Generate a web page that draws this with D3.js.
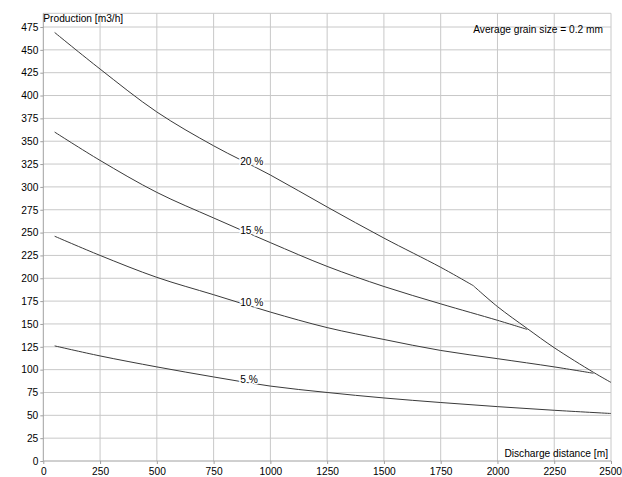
<!DOCTYPE html>
<html>
<head>
<meta charset="utf-8">
<script src="https://cdn.jsdelivr.net/npm/d3@7"></script>
<style>
  html, body { margin: 0; padding: 0; background: #fff; }
  svg { display: block; }
  text { font-family: "Liberation Sans", Arial, sans-serif; font-size: 10.2px; fill: #000; }
</style>
</head>
<body>
<svg id="chart" width="622" height="477"></svg>
<script>
// ---- data ----
const xTicks = [0, 250, 500, 750, 1000, 1250, 1500, 1750, 2000, 2250, 2500];
const yTicks = [0, 25, 50, 75, 100, 125, 150, 175, 200, 225, 250, 275, 300, 325, 350, 375, 400, 425, 450, 475];

const s20x = [50, 250, 500, 750, 1000, 1250, 1500, 1750, 1893, 2000, 2131, 2250, 2423, 2500];
const s20y = [469, 429, 382, 345, 313, 278, 244, 212, 192, 169, 145, 124, 97, 86];
const s20kink = 1893;

const s15x = [50, 250, 500, 750, 1000, 1250, 1500, 1750, 2000, 2131];
const s15y = [360, 329, 294, 266, 239, 213, 191, 172, 154, 144];

const s10x = [50, 250, 500, 750, 1000, 1250, 1500, 1750, 2000, 2250, 2423];
const s10y = [246, 225, 201, 182, 163, 146, 133, 121, 112, 103, 96];

const s5x = [50, 250, 500, 750, 1000, 1250, 1500, 1750, 2000, 2250, 2500];
const s5y = [126, 115, 103, 92, 82, 75, 69, 64, 59.5, 55.5, 52];

const seriesNames = ["20 %", "15 %", "10 %", "5 %"];
const labelX = 867;

const xTitle = "Discharge distance [m]";
const yTitle = "Production [m3/h]";
const note = "Average grain size = 0.2 mm";

// ---- layout ----
const svg = d3.select("#chart");
const pLeft = 43.3, pRight = 611, pTop = 13.3, pBottom = 461;

const x = d3.scaleLinear().domain([0, 2500]).range([pLeft, pRight]);
const y = d3.scaleLinear().domain([0, 490]).range([pBottom, pTop]);

// grid
const grid = svg.append("g");
grid.selectAll("line.v").data(xTicks.slice(1)).enter().append("line")
  .attr("x1", d => x(d)).attr("x2", d => x(d))
  .attr("y1", pTop).attr("y2", pBottom)
  .attr("stroke", "#c8c8c8").attr("stroke-width", 1);
grid.selectAll("line.h").data(yTicks.slice(1)).enter().append("line")
  .attr("x1", pLeft).attr("x2", pRight)
  .attr("y1", d => y(d)).attr("y2", d => y(d))
  .attr("stroke", "#c8c8c8").attr("stroke-width", 1);
grid.append("line").attr("x1", pLeft).attr("x2", pRight).attr("y1", pTop).attr("y2", pTop)
  .attr("stroke", "#c8c8c8");

// axes
const fmt = d3.format("d");
const xAxis = d3.axisBottom(x).tickValues(xTicks).tickFormat(fmt).tickSize(3).tickSizeOuter(0).tickPadding(4);
const yAxis = d3.axisLeft(y).tickValues(yTicks).tickFormat(fmt).tickSize(3).tickSizeOuter(0).tickPadding(2);

const gx = svg.append("g").attr("transform", `translate(0,${pBottom})`).call(xAxis);
const gy = svg.append("g").attr("transform", `translate(${pLeft},0)`).call(yAxis);
[gx, gy].forEach(g => {
  g.select(".domain").attr("stroke", "#a0a0a0");
  g.selectAll(".tick line").attr("stroke", "#a0a0a0");
  g.selectAll(".tick text").style("font-family", '"Liberation Sans", Arial, sans-serif')
    .style("font-size", "10.2px").attr("fill", "#000");
});
gy.select(".domain").attr("d", `M0,${pTop}V${pBottom}`);
gx.select(".domain").attr("d", `M${pLeft},0H${pRight}`);
// keep last x label inside the window
gx.selectAll(".tick").filter(d => d === 2500).select("text")
  .attr("text-anchor", "end").attr("x", 10.5);

// curves
const line = d3.line().x(d => x(d[0])).y(d => y(d[1])).curve(d3.curveCatmullRom.alpha(0.5));
const s20 = d3.zip(s20x, s20y);
const allSeries = [
  s20.filter(d => d[0] <= s20kink),
  s20.filter(d => d[0] >= s20kink),
  d3.zip(s15x, s15y),
  d3.zip(s10x, s10y),
  d3.zip(s5x, s5y)
];
svg.append("g").selectAll("path").data(allSeries).enter().append("path")
  .attr("d", line)
  .attr("fill", "none").attr("stroke", "#3a3a3a").attr("stroke-width", 1);

// labels on curves
function interp(xs, ys, v) {
  const i = d3.bisectLeft(xs, v);
  const t = (v - xs[i - 1]) / (xs[i] - xs[i - 1]);
  return ys[i - 1] + t * (ys[i] - ys[i - 1]);
}
const pairs = [[s20x, s20y], [s15x, s15y], [s10x, s10y], [s5x, s5y]];
svg.append("g").selectAll("text").data(seriesNames).enter().append("text")
  .attr("x", x(labelX))
  .attr("y", (d, i) => y(interp(pairs[i][0], pairs[i][1], 915)))
  .attr("stroke", "#fff").attr("stroke-width", 3).attr("paint-order", "stroke")
  .text(d => d);

// titles
svg.append("text").attr("x", pLeft).attr("y", 22).text(yTitle);
svg.append("text").attr("x", 608).attr("y", 457).attr("text-anchor", "end").text(xTitle);
svg.append("text").attr("x", 603).attr("y", 33).attr("text-anchor", "end").text(note);
</script>
</body>
</html>
